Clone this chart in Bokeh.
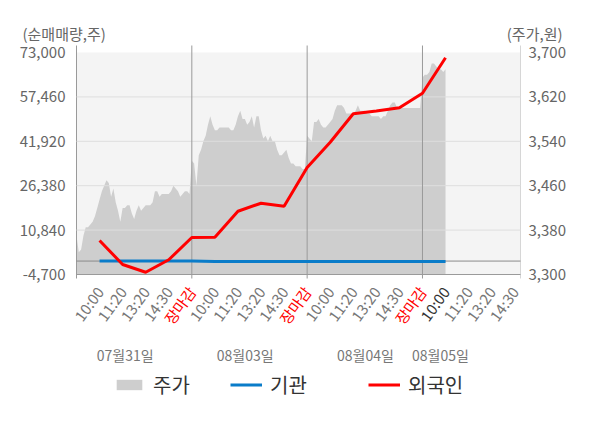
from bokeh.plotting import figure
from bokeh.models import (Range1d, LinearAxis, FixedTicker, NumeralTickFormatter, Span,
                          BoxAnnotation, Label, Legend, LegendItem)
from bokeh.embed import file_html
from bokeh.resources import INLINE

# ---------------- data ----------------
tick_labels = ["10:00", "11:20", "13:20", "14:30", "장마감",
               "10:00", "11:20", "13:20", "14:30", "장마감",
               "10:00", "11:20", "13:20", "14:30", "장마감",
               "10:00", "11:20", "13:20", "14:30"]
date_labels = ["07월31일", "08월03일", "08월04일", "08월05일"]

# net buying (shares) at each labelled time, slots 1..16
foreign = [7200, -1200, -3900, 450, 8250, 8350, 17450, 20250, 19200,
           32750, 41600, 51550, 52500, 53650, 58750, 71150]
institution = [0, 0, 0, 0, 0, -150, -150, -150, -150,
               -150, -150, -150, -150, -150, -150, -150]

# share price (won), intraday samples per day
price_day1 = [3370, 3340, 3345, 3370, 3385, 3385, 3390, 3395, 3405, 3420,
              3435, 3450, 3460, 3470, 3465, 3440, 3455, 3430, 3415, 3395,
              3420, 3420, 3425, 3425, 3410, 3400, 3415, 3425, 3415, 3420,
              3425, 3425, 3425, 3430, 3450, 3450, 3440, 3445, 3445, 3445,
              3445, 3450, 3460, 3455, 3450, 3440, 3445, 3450, 3450, 3445]
price_day2 = [3505, 3500, 3460, 3515, 3525, 3540, 3550, 3570, 3585, 3570,
              3560, 3560, 3565, 3565, 3565, 3565, 3565, 3560, 3560, 3570,
              3585, 3595, 3580, 3580, 3570, 3575, 3585, 3565, 3585, 3585,
              3560, 3545, 3550, 3540, 3550, 3540, 3540, 3525, 3515, 3515,
              3520, 3525, 3510, 3500, 3500, 3495, 3495, 3495, 3490, 3490]
price_day3 = [3550, 3545, 3540, 3575, 3575, 3580, 3570, 3565, 3565, 3570,
              3575, 3580, 3595, 3605, 3605, 3605, 3600, 3590, 3590, 3590,
              3590, 3595, 3605, 3595, 3595, 3595, 3590, 3590, 3585, 3585,
              3585, 3585, 3580, 3585, 3585, 3595, 3605, 3610, 3610, 3600,
              3600, 3600, 3600, 3600, 3600, 3600, 3600, 3600, 3600, 3600]
price_day4 = [3655, 3660, 3660, 3665, 3680, 3680, 3675, 3670, 3670, 3665, 3670]

left_ticks = [-4700, 10840, 26380, 41920, 57460, 73000]
right_ticks = [3300, 3380, 3460, 3540, 3620, 3700]

# ---------------- layout (canvas pixels) ----------------
FONT = "Noto Sans CJK KR"
W, H = 584, 412
FL, FR = 76, 520          # plot area left/right
FT, FB = 45, 274          # plot area top (lines start) / bottom (axis)
BAND_TOP = 52             # y of the top tick
SLOTS_PER_DAY = 5
X0, X1 = 0.0, 19.25

xs = (X1 - X0) / (FR - FL)
YB, YTT = left_ticks[0], left_ticks[-1]
PB, PTT = right_ticks[0], right_ticks[-1]
ys = (YTT - YB) / (FB - BAND_TOP)      # value per px, left axis
ps = (PTT - PB) / (FB - BAND_TOP)      # value per px, right axis


def xd(px):
    return X0 + (px - FL) * xs


def yd(py):
    return YB + (FB - py) * ys


def pd_(py):
    return PB + (FB - py) * ps


p = figure(width=W, height=H, x_range=Range1d(xd(0), xd(W)), y_range=Range1d(yd(H), yd(0)),
           output_backend="svg", toolbar_location=None, x_axis_location=None,
           y_axis_location=None, min_border=0)
p.extra_y_ranges = {"price": Range1d(pd_(H), pd_(0))}
p.background_fill_color = "white"
p.border_fill_color = "white"
p.outline_line_color = None

# plot band background
p.add_layout(BoxAnnotation(left=X0, right=X1, bottom=YB, top=YTT, fill_color="#f4f4f4",
                           fill_alpha=1.0, line_color=None, level="underlay"))

# price area
px, py = [], []
for d, day in enumerate([price_day1, price_day2, price_day3, price_day4]):
    step = SLOTS_PER_DAY / 50.0
    for k, v in enumerate(day):
        px.append(d * SLOTS_PER_DAY + k * step)
        py.append(v)
area = p.varea(x=px, y1=[PB] * len(px), y2=py, fill_color="#cecece",
               y_range_name="price")

# grid & reference lines
p.xgrid.visible = False
p.ygrid.visible = False
hg = p.segment(x0=[X0] * 4, y0=left_ticks[1:-1], x1=[X1] * 4, y1=left_ticks[1:-1],
               line_color="#dedede", line_width=1)
hg.level = "annotation"
zl = p.segment(x0=[X0], y0=[0], x1=[X1], y1=[0], line_color="#8a8a8a", line_width=1)
zl.level = "annotation"

# day separators (with tick below the axis) and the axis frame lines
bounds = [5, 10, 15]
seps = p.segment(x0=bounds, y0=[yd(FB + 4)] * 3, x1=bounds, y1=[yd(FT)] * 3,
                 line_color="#9a9a9a", line_width=1)
seps.level = "annotation"
base = p.segment(x0=[X0], y0=[YB], x1=[X1], y1=[YB], line_color="#9a9a9a", line_width=1)
base.level = "annotation"

# lines
slots = list(range(1, len(foreign) + 1))
r_inst = p.line(x=slots, y=institution, line_color="#0a7cc9", line_width=3)
r_for = p.line(x=slots, y=foreign, line_color="#ff0000", line_width=3)
r_inst.level = "overlay"
r_for.level = "overlay"

# y axes (fixed at the plot-area edges)
ya = LinearAxis(ticker=FixedTicker(ticks=left_ticks),
                formatter=NumeralTickFormatter(format="0,0"),
                fixed_location=X0, bounds=(yd(FB + 4), yd(FT)))
ya.major_tick_out = 0
ya.major_tick_in = 0
ya.minor_tick_line_color = None
ya.axis_line_color = "#9a9a9a"
ya.major_label_standoff = 11
ya.major_label_text_font = FONT
ya.major_label_text_font_size = "15px"
ya.major_label_text_color = "#666666"
p.add_layout(ya, "left")

ra = LinearAxis(y_range_name="price", ticker=FixedTicker(ticks=right_ticks),
                formatter=NumeralTickFormatter(format="0,0"),
                fixed_location=X1, bounds=(pd_(FB + 4), pd_(FT)))
ra.major_tick_out = 0
ra.major_tick_in = 0
ra.minor_tick_line_color = None
ra.axis_line_color = "#d6d6d6"
ra.major_label_standoff = 8
ra.major_label_text_font = FONT
ra.major_label_text_font_size = "15px"
ra.major_label_text_color = "#666666"
p.add_layout(ra, "right")

# x tick labels
for i, t in enumerate(tick_labels):
    if t == "장마감":
        col = "#ff0000"
    elif i == 15:
        col = "#333333"
    else:
        col = "#777777"
    p.add_layout(Label(x=i + 1, y=yd(288), text=t, angle=0.942, angle_units="rad",
                       text_align="right", text_baseline="middle", text_font=FONT,
                       text_font_size="15px", text_color=col))

# date labels
date_px = [124.7, 244.7, 365, 440]
for t, cx in zip(date_labels, date_px):
    p.add_layout(Label(x=xd(cx), y=yd(354), text=t, text_align="center",
                       text_baseline="middle", text_font=FONT, text_font_size="14px",
                       text_color="#777777"))

# axis titles
p.add_layout(Label(x=xd(22), y=yd(33), text="(순매매량,주)", text_align="left",
                   text_baseline="middle", text_font=FONT, text_font_size="15px",
                   text_color="#666666"))
p.add_layout(Label(x=xd(562), y=yd(33), text="(주가,원)", text_align="right",
                   text_baseline="middle", text_font=FONT, text_font_size="15px",
                   text_color="#666666"))

# legends
for lab, rend, lx in [("주가", area, 113), ("기관", r_inst, 230), ("외국인", r_for, 368)]:
    leg = Legend(items=[LegendItem(label=lab, renderers=[rend])], location=(lx, H - 399),
                 orientation="horizontal", glyph_width=32, glyph_height=13, label_standoff=8,
                 padding=0, margin=0, spacing=0, border_line_color=None,
                 background_fill_alpha=0, label_text_font=FONT, label_text_font_size="20px",
                 label_text_color="#333333")
    p.add_layout(leg)

open("out.html", "w").write(file_html(p, INLINE))
